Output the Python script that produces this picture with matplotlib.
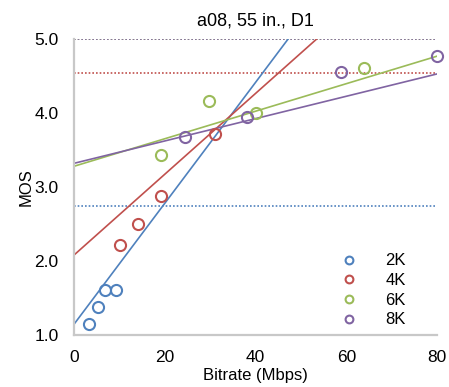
import matplotlib
matplotlib.use("Agg")
import matplotlib.pyplot as plt
import numpy as np

plt.rcParams['font.family'] = ['Liberation Sans', 'DejaVu Sans']

labels = ["2K", "4K", "6K", "8K"]
colors = ["#4F81BD", "#C0504D", "#9BBB59", "#8064A2"]

bitrate = {
    "2K": [3.2, 5.2, 6.9, 9.3],
    "4K": [10.2, 14.1, 19.2, 31.0],
    "6K": [19.2, 29.8, 40.2, 63.9],
    "8K": [24.4, 38.2, 58.8, 80.1],
}
mos = {
    "2K": [1.15, 1.38, 1.61, 1.61],
    "4K": [2.22, 2.50, 2.88, 3.71],
    "6K": [3.43, 4.16, 4.00, 4.61],
    "8K": [3.67, 3.94, 4.55, 4.77],
}
# trend lines (intercept, slope)
trend_intercept = [1.145, 2.08, 3.28, 3.32]
trend_slope = [0.0817, 0.0546, 0.0186, 0.0151]
# horizontal dotted reference levels
ref_levels = [2.74, 4.545, 5.0, 5.0]

fig = plt.figure(figsize=(4.49, 3.87), dpi=100)
ax = fig.add_axes([0.1648, 0.1344, 0.8085, 0.7648])

xs = np.array([0, 80])
for i, lab in enumerate(labels):
    c = colors[i]
    ax.axhline(ref_levels[i], color=c, linestyle=(0, (1, 1.2)), linewidth=1.2, zorder=1)
    ax.plot(xs, trend_intercept[i] + trend_slope[i] * xs, color=c, linewidth=1.2, zorder=2)
    ax.plot(bitrate[lab], mos[lab], linestyle='none', marker='o', markersize=8,
            markerfacecolor='none', markeredgecolor=c, markeredgewidth=1.5,
            label=lab, zorder=3, clip_on=False)

ax.set_xlim(0, 80)
ax.set_ylim(1.0, 5.0)
ax.set_xticks([0, 20, 40, 60, 80])
ax.set_yticks([1, 2, 3, 4, 5])
ax.set_yticklabels(["1.0", "2.0", "3.0", "4.0", "5.0"])
ax.tick_params(axis='y', length=0, labelsize=12.5, pad=11)
ax.tick_params(axis='x', length=0, labelsize=12.5, pad=11)
for s in ["top", "right"]:
    ax.spines[s].set_visible(False)
for s in ["left", "bottom"]:
    ax.spines[s].set_color("#C8C8C8")
    ax.spines[s].set_linewidth(1.6)

ax.set_xlabel("Bitrate (Mbps)", fontsize=12, labelpad=2)
ax.set_ylabel("MOS", fontsize=12)
ax.yaxis.set_label_coords(-0.112, 0.5)
ax.set_title("a08, 55 in., D1", fontsize=13, pad=10)

leg = ax.legend(loc="lower right", bbox_to_anchor=(0.955, -0.025), frameon=False,
                fontsize=12, markerscale=0.7, handletextpad=1.7,
                labelspacing=0.28, handlelength=1.0)

fig.savefig("out.png", dpi=100)
